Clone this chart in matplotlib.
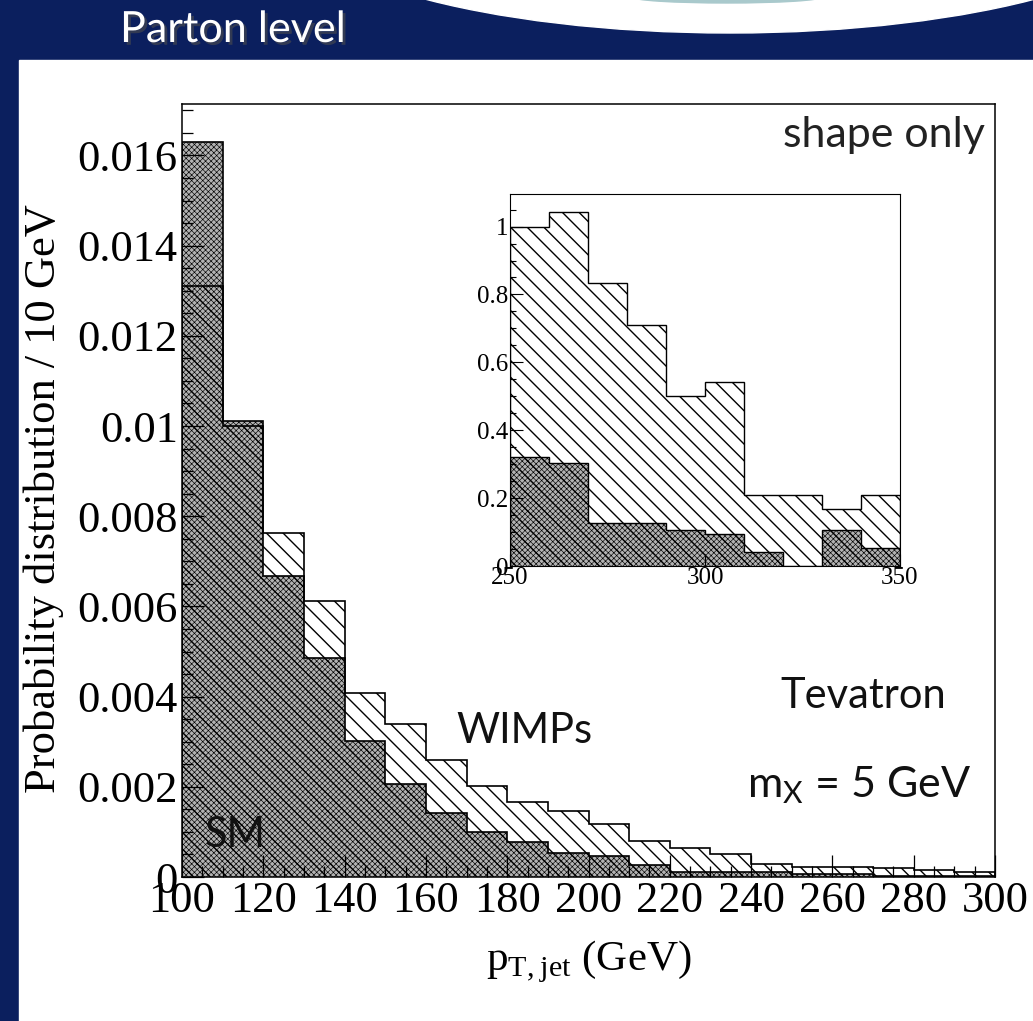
import numpy as np
import matplotlib
matplotlib.use("Agg")
import matplotlib.pyplot as plt
import matplotlib.patheffects as pe
from matplotlib.patches import Rectangle, Ellipse
from matplotlib.ticker import MultipleLocator

# --- data (probability per 10 GeV bin) ---
edges = np.arange(100, 310, 10)
wimp = [0.0131, 0.0100, 0.00763, 0.00612, 0.00408, 0.00339, 0.00259, 0.00202,
        0.00166, 0.00146, 0.00118, 0.00080, 0.00065, 0.00050, 0.00029, 0.00023,
        0.00022, 0.00019, 0.00016, 0.00010]
sm = [0.0163, 0.0101, 0.00667, 0.00486, 0.00302, 0.00206, 0.00142, 0.00100,
      0.00078, 0.00053, 0.00047, 0.00027, 0.00012, 0.00012, 0.00012, 0.000074,
      0.000069, 0.000029, 0.000029, 0.000024]

# inset: tail 250-350 GeV, rescaled
inset_edges = np.arange(250, 360, 10)
inset_wimp = [1.0, 1.043, 0.833, 0.710, 0.501, 0.543, 0.209, 0.209, 0.167, 0.209]
inset_sm = [0.322, 0.303, 0.126, 0.126, 0.106, 0.093, 0.042, 0.0, 0.106, 0.052]

navy = "#0b1f5e"
serif = "Liberation Serif"
sans = "Lato"
sm_face = (0, 0, 0, 0.3)

plt.rcParams["mathtext.fontset"] = "custom"
plt.rcParams["mathtext.rm"] = serif
plt.rcParams["mathtext.sf"] = sans

W, H = 1033, 1021
fig = plt.figure(figsize=(W / 100, H / 100), dpi=100)
fig.patch.set_facecolor(navy)

# slide background drawn in pixel coordinates
bg = fig.add_axes([0, 0, 1, 1], zorder=-5)
bg.set_xlim(0, W)
bg.set_ylim(H, 0)
bg.axis("off")
bg.add_patch(Ellipse((730, -95), 900, 256, color="white"))
bg.add_patch(Ellipse((727, -3), 190, 12, color="#a9c9cc"))
bg.add_patch(Rectangle((19, 60), W - 19, H - 60, color="white"))
bg.text(120, 42, "Parton level", color="white", fontsize=31, family=sans,
        path_effects=[pe.withSimplePatchShadow(offset=(2, -2), alpha=0.6)])


def fmt(x, pos):
    return "%g" % x


# --- main plot ---
ax = fig.add_axes([182 / W, 1 - 877 / H, (995 - 182) / W, (877 - 104) / H])
plt.rcParams["hatch.linewidth"] = 1.0
ax.stairs(wimp, edges, fill=True, facecolor="white", edgecolor="black",
          hatch="\\\\", linewidth=1.2)
plt.rcParams["hatch.linewidth"] = 0.45
ax.stairs(sm, edges, fill=True, facecolor=sm_face, edgecolor="black",
          hatch="xxxxxx", linewidth=1.2)
ax.set_xlim(100, 300)
ax.set_ylim(0, 0.01714)
ax.xaxis.set_major_locator(MultipleLocator(20))
ax.xaxis.set_minor_locator(MultipleLocator(5))
ax.yaxis.set_major_locator(MultipleLocator(0.002))
ax.yaxis.set_minor_locator(MultipleLocator(0.0005))
ax.yaxis.set_major_formatter(fmt)
ax.tick_params(which="both", direction="in", top=False, right=False, width=0.9)
ax.tick_params(which="major", length=16, labelsize=32, pad=3)
ax.tick_params(which="minor", length=8)
for lab in ax.get_xticklabels() + ax.get_yticklabels():
    lab.set_family(serif)
for s in ax.spines.values():
    s.set_linewidth(1.1)
ax.set_ylabel("Probability distribution / 10 GeV", family=serif, fontsize=32)
ax.yaxis.set_label_coords(-0.145, 0.49)
ax.set_xlabel(r"p$_{\mathrm{T,jet}}$ (GeV)", family=serif, fontsize=31)
ax.xaxis.set_label_coords(0.5, -0.08)

ax.text(297.5, 0.01619, "shape only", ha="right", family=sans, fontsize=31, color="#222")
ax.text(247.2, 0.00375, "Tevatron", family=sans, fontsize=30, color="#111")
ax.text(239.0, 0.00177, r"m$_\mathsf{X}$ = 5 GeV", family=sans, fontsize=31, color="#111")
ax.text(167.6, 0.00297, "WIMPs", family=sans, fontsize=30, color="#111")
ax.text(105.5, 0.00066, "SM", family=sans, fontsize=30, color="#111")

# --- inset ---
ins = fig.add_axes([510 / W, 1 - 566 / H, 390 / W, (566 - 194) / H])
plt.rcParams["hatch.linewidth"] = 1.0
ins.stairs(inset_wimp, inset_edges, fill=True, facecolor="white", edgecolor="black",
           hatch="\\\\", linewidth=1.0)
plt.rcParams["hatch.linewidth"] = 0.45
ins.stairs(inset_sm, inset_edges, fill=True, facecolor=sm_face, edgecolor="black",
           hatch="xxxxxx", linewidth=1.0)
ins.set_xlim(250, 350)
ins.set_ylim(0, 1.096)
ins.xaxis.set_major_locator(MultipleLocator(50))
ins.yaxis.set_major_locator(MultipleLocator(0.2))
ins.yaxis.set_minor_locator(MultipleLocator(0.05))
ins.yaxis.set_major_formatter(fmt)
ins.tick_params(which="both", direction="in", top=False, right=False, width=0.8)
ins.tick_params(which="major", length=9, labelsize=18, pad=1)
ins.tick_params(which="minor", length=4)
for lab in ins.get_xticklabels() + ins.get_yticklabels():
    lab.set_family(serif)

fig.savefig("out.png", dpi=100, facecolor=fig.get_facecolor())
